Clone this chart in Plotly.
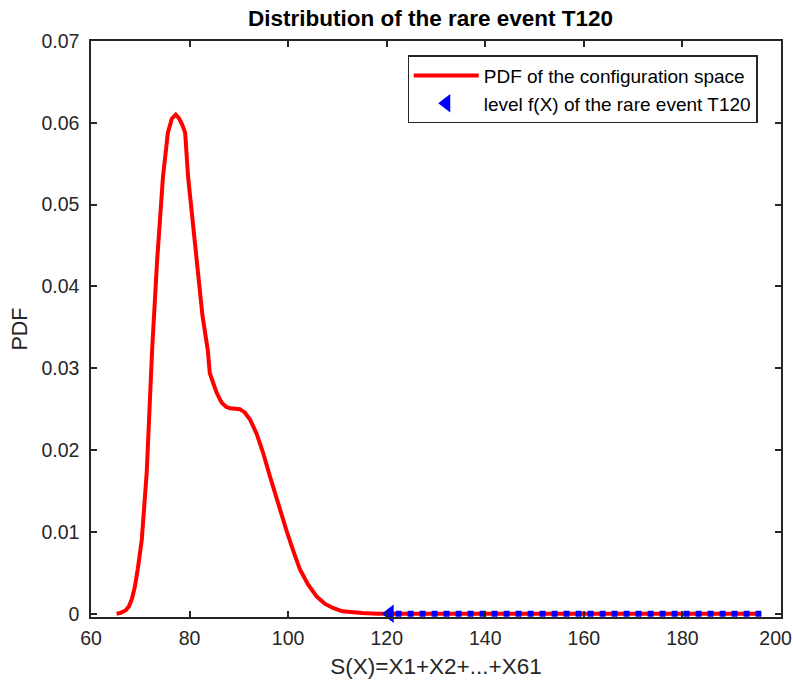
import plotly.graph_objects as go

# PDF of the configuration space
s_values = [65.2, 66, 67, 67.7, 68.3, 68.9, 69.5, 70.3, 71.3, 72.4, 73.4, 74.6, 75.6, 76.4, 77.2,
            77.8, 78.5, 79.1, 79.7, 80.6, 81.6, 82.6, 83.7, 84.1, 84.8, 85.5, 86.5, 87.4, 88.2,
            89.2, 90.2, 91.2, 92.3, 93.6, 94.9, 96.3, 97.7, 98.8, 99.8, 101.1, 102.4, 104.0,
            105.8, 107.5, 109.1, 111.0, 112.5, 115.0, 118.0, 122.0, 196.0]
pdf_values = [0.0, 0.0001, 0.0004, 0.0009, 0.0018, 0.0033, 0.0055, 0.0090, 0.0172, 0.0322,
              0.0430, 0.0534, 0.0588, 0.0605, 0.0610, 0.0606, 0.0598, 0.0588, 0.0534, 0.0480,
              0.0420, 0.0365, 0.0322, 0.0294, 0.0282, 0.0270, 0.0258, 0.0253, 0.0251,
              0.0251, 0.0250, 0.0246, 0.0237, 0.0220, 0.0197, 0.0168, 0.0139, 0.0118, 0.0099,
              0.0076, 0.0054, 0.0036, 0.0021, 0.0012, 0.0007, 0.0003, 0.0002, 0.0001, 0.0,
              0.0, 0.0]

# Level f(X) of the rare event T120
level_x = [120.6, 196]
level_y = [0, 0]

x_ticks = [60, 80, 100, 120, 140, 160, 180, 200]
x_tick_text = ["60", "80", "100", "120", "140", "160", "180", "200\u00a0\u00a0"]
y_ticks = [0, 0.01, 0.02, 0.03, 0.04, 0.05, 0.06, 0.07]
y_tick_text = ["0", "0.01", "0.02", "0.03", "0.04", "0.05", "0.06", "0.07"]

FONT = "Arial, Liberation Sans, sans-serif"

fig = go.Figure()
fig.add_trace(go.Scatter(
    x=s_values, y=pdf_values, mode="lines",
    line=dict(color="#ff0000", width=4),
    name="PDF of the configuration space"))
fig.add_trace(go.Scatter(
    x=[level_x[0] + 1.2, level_x[1]], y=level_y, mode="lines",
    line=dict(color="#0000ff", width=6, dash="6px,6px"),
    showlegend=False, hoverinfo="skip"))
fig.add_trace(go.Scatter(
    x=[level_x[0]], y=[level_y[0]], mode="markers",
    marker=dict(symbol="triangle-left", color="#0000ff", size=16),
    name="level f(X) of the rare event T120", cliponaxis=False))

axis_common = dict(
    showgrid=False, zeroline=False, showline=True, linecolor="#262626", linewidth=1.5,
    mirror="ticks", ticks="inside", ticklen=6, tickcolor="#262626", tickwidth=1.5,
    tickfont=dict(family=FONT, size=19.5, color="#262626"), automargin=False,
    ticklabeloverflow="allow",
)

fig.update_layout(
    width=793, height=680,
    margin=dict(l=91, r=12, t=41, b=63),
    paper_bgcolor="white", plot_bgcolor="white",
    title=dict(text="<b>Distribution of the rare event T120</b>", x=0.543, xanchor="center",
               y=0.973, yanchor="middle",
               font=dict(family=FONT, size=22.5, color="black")),
    xaxis=dict(range=[60, 200], tickvals=x_ticks, ticktext=x_tick_text, ticklabelstandoff=3,
               **axis_common,
               title=dict(text="S(X)=X1+X2+...+X61", standoff=10,
                          font=dict(family=FONT, size=22.5, color="#262626"))),
    yaxis=dict(range=[-0.0004, 0.07], tickvals=y_ticks, ticktext=y_tick_text, ticklabelstandoff=6,
               **axis_common,
               title=dict(text="PDF", standoff=8,
                          font=dict(family=FONT, size=21.5, color="#262626"))),
    legend=dict(x=0.966, y=0.975, xanchor="right", yanchor="top",
                bgcolor="white", bordercolor="#262626", borderwidth=1.2,
                font=dict(family=FONT, size=19, color="black"),
                itemwidth=65, tracegroupgap=0),
    showlegend=True,
)

fig.write_html("out.html")
